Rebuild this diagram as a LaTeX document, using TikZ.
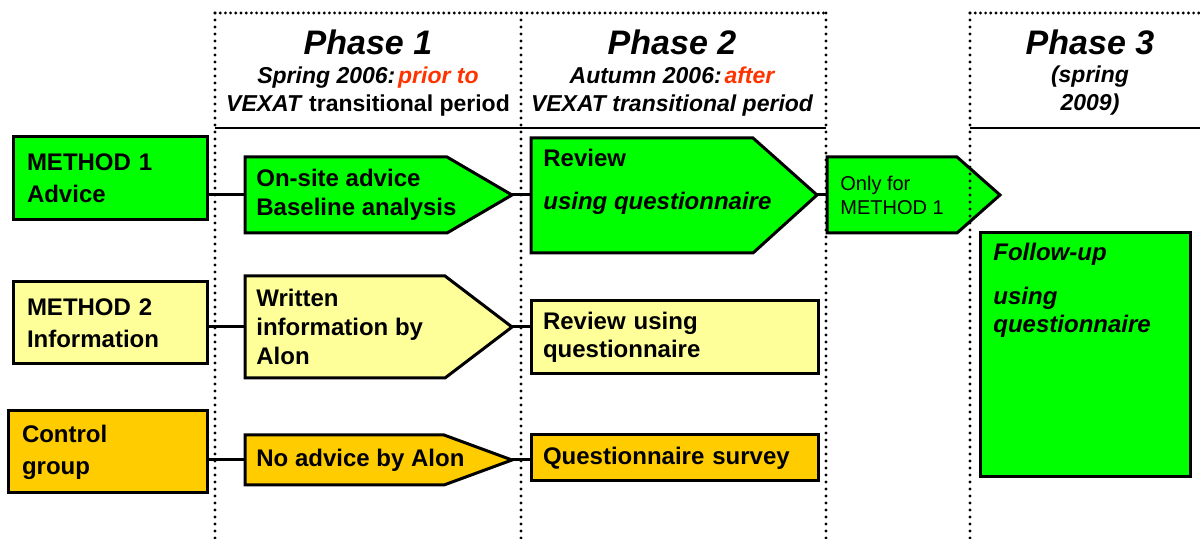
\documentclass[tikz,border=0pt]{standalone}
\usepackage{fontspec}
\setmainfont{Liberation Sans}
\definecolor{mgreen}{HTML}{00FF00}
\definecolor{myellow}{HTML}{FFFF99}
\definecolor{morange}{HTML}{FFCC00}
\definecolor{mred}{HTML}{FF3300}

\tikzset{
  grpbox/.style={draw, line width=1.5pt, inner xsep=7pt, inner ysep=0pt, align=left, font=\bfseries\fontsize{12}{16}\selectfont},
  tipbox/.style={draw, line width=1.5pt, line join=miter},
  boxtext/.style={inner xsep=5.5pt, inner ysep=0pt, anchor=west, align=left, font=\bfseries\fontsize{12}{14.5}\selectfont},
  link/.style={line width=1.5pt},
  vdots/.style={line width=1.6pt, line cap=round, dash pattern=on 0pt off 3.5pt},
  hdots/.style={line width=1.6pt, line cap=round, dash pattern=on 0pt off 2.6pt},
  headtext/.style={font=\bfseries\itshape\fontsize{17}{20}\selectfont},
  subtext/.style={align=center, font=\bfseries\fontsize{11.5}{14}\selectfont}
}

\begin{document}
\begin{tikzpicture}[x=0.5pt, y=-0.5pt]
\useasboundingbox (0,0) rectangle (1200,539);

% phase headers
\draw[line width=1.3pt] (215,128) -- (826,128);
\draw[line width=1.3pt] (970,128) -- (1200,128);
\node[headtext] (ph1) at (368,42) {Phase 1};
\node[subtext] (ph1sub) at (368,92) {\textit{Spring 2006:\hspace{0.12em}\textcolor{mred}{prior to}}\\\textit{VEXAT} transitional period};
\node[headtext] (ph2) at (672,42) {Phase 2};
\node[subtext, font=\bfseries\itshape\fontsize{11.5}{14}\selectfont] (ph2sub) at (672,92) {Autumn 2006:\hspace{0.12em}\textcolor{mred}{after}\\VEXAT transitional period};
\node[headtext] (ph3) at (1090,42) {Phase 3};
\node[subtext, font=\bfseries\itshape\fontsize{11.5}{14}\selectfont] (ph3sub) at (1090,91) {(spring\\2009)};

% groups
\node[grpbox, fill=mgreen, text width=83pt, minimum height=41.5pt] (m1) at (110,178.5) {METHOD 1\\Advice};
\node[grpbox, fill=myellow, text width=83pt, minimum height=41pt] (m2) at (110,323) {METHOD 2\\Information};
\node[grpbox, fill=morange, text width=85.5pt, minimum height=41pt] (ctrl) at (107.5,452) {Control\\group};

% phase 1
\filldraw[tipbox, fill=mgreen] (245,157) -- (447,157) -- (512,195) -- (447,233) -- (245,233) -- cycle;
\node[boxtext] (p1) at (245,195) {On-site advice\\Baseline analysis};
\coordinate (p1tip) at (512,195);
\filldraw[tipbox, fill=myellow] (245,276) -- (445,276) -- (512,327) -- (445,378) -- (245,378) -- cycle;
\node[boxtext] (p2) at (245,327) {Written\\information by\\Alon};
\coordinate (p2tip) at (512,327);
\filldraw[tipbox, fill=morange] (245,435) -- (444,435) -- (512,460) -- (444,485) -- (245,485) -- cycle;
\node[boxtext] (p3) at (245,460) {No advice by Alon};
\coordinate (p3tip) at (512,460);

% phase 2
\filldraw[tipbox, fill=mgreen] (531,138) -- (753,138) -- (817,195) -- (753,253) -- (531,253) -- cycle;
\node[boxtext, inner xsep=6pt] (rev1) at (531,181.5) {Review\\[7pt]\textit{using questionnaire}};
\coordinate (rev1tip) at (817,195);
\node[grpbox, fill=myellow, inner xsep=6pt, text width=131.5pt, minimum height=36.5pt, font=\bfseries\fontsize{12}{14}\selectfont] (rev2) at (674.5,337.5) {Review using\\questionnaire};
\node[grpbox, fill=morange, inner xsep=6pt, text width=131.5pt, minimum height=23pt] (rev3) at (674.5,458) {Questionnaire survey};

\filldraw[tipbox, fill=mgreen] (827,157) -- (957,157) -- (1000,195) -- (957,233) -- (827,233) -- cycle;
\node[boxtext, inner xsep=6.5pt, font=\fontsize{10}{12}\selectfont] (only) at (827,195) {Only for\\METHOD 1};

% phase 3
\filldraw[tipbox, fill=mgreen] (980,233) rectangle (1190,477);
\node[boxtext, anchor=north west, inner xsep=6.5pt, font=\bfseries\itshape\fontsize{12}{14}\selectfont] (fu) at (980,243) {Follow-up\\[8pt]using\\questionnaire};

% links
\draw[link] (m1.east |- p1.west) -- (p1.west);
\draw[link] (m2.east |- p2.west) -- (p2.west);
\draw[link] (ctrl.east |- p3.west) -- (p3.west);
\draw[link] (p1tip) -- (p1tip -| rev1.west);
\draw[link] (p2tip) -- (p2tip -| rev2.west);
\draw[link] (p3tip) -- (p3tip -| rev3.west);
\draw[link] (rev1tip) -- (rev1tip -| only.west);

% phase borders
\draw[hdots] (215,13) -- (826,13);
\draw[hdots] (970,13) -- (1200,13);
\draw[vdots] (215,13) -- (215,539);
\draw[vdots] (521,13) -- (521,539);
\draw[vdots] (826,13) -- (826,539);
\draw[vdots] (970,13) -- (970,539);
\end{tikzpicture}
\end{document}
